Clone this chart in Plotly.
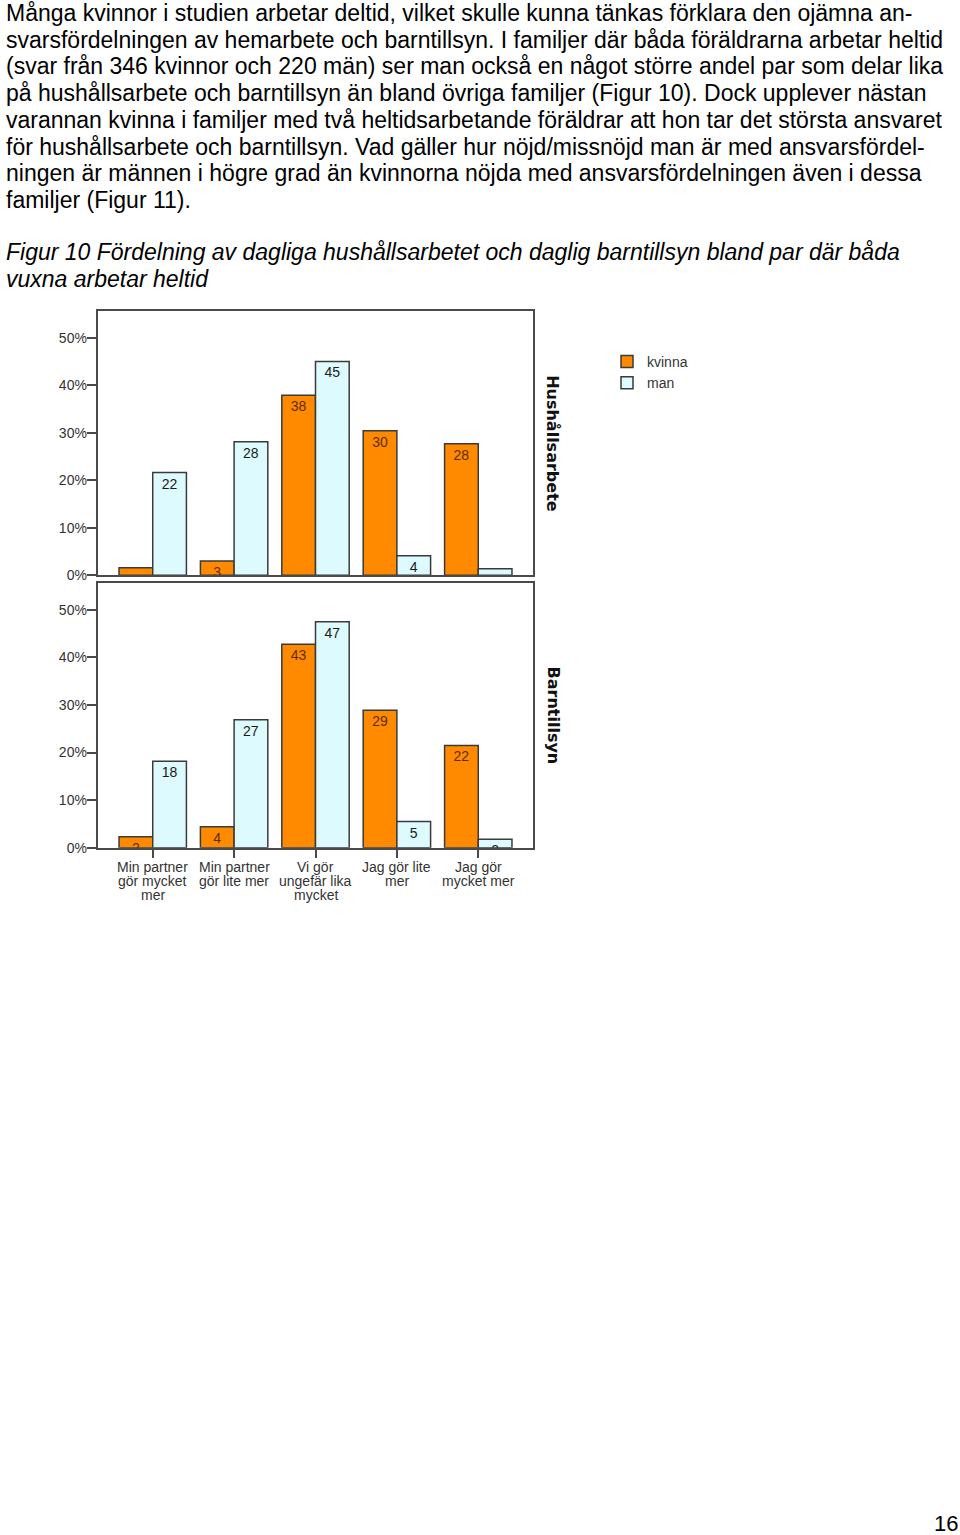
import plotly.graph_objects as go

# ---------------- data ----------------
categories = ["Min partner<br>gör mycket<br>mer", "Min partner<br>gör lite mer",
              "Vi gör<br>ungefär lika<br>mycket", "Jag gör lite<br>mer", "Jag gör<br>mycket mer"]

hush_kvinna = [1.6, 3.0, 37.9, 30.4, 27.7]
hush_man = [21.6, 28.1, 45.0, 4.1, 1.4]
hush_kvinna_labels = ["", "3", "38", "30", "28"]
hush_man_labels = ["22", "28", "45", "4", ""]

barn_kvinna = [2.3, 4.4, 42.8, 28.9, 21.5]
barn_man = [18.2, 26.9, 47.5, 5.5, 1.8]
barn_kvinna_labels = ["2", "4", "43", "29", "22"]
barn_man_labels = ["18", "27", "47", "5", "2"]

ytick_vals = [0, 10, 20, 30, 40, 50]
ytick_text = ["0%", "10%", "20%", "30%", "40%", "50%"]

series_names = ["kvinna", "man"]
panel_names = ["Hushållsarbete", "Barntillsyn"]

paragraph = [
    "Många kvinnor i studien arbetar deltid, vilket skulle kunna tänkas förklara den ojämna an-",
    "svarsfördelningen av hemarbete och barntillsyn. I familjer där båda föräldrarna arbetar heltid",
    "(svar från 346 kvinnor och 220 män) ser man också en något större andel par som delar lika",
    "på hushållsarbete och barntillsyn än bland övriga familjer (Figur 10). Dock upplever nästan",
    "varannan kvinna i familjer med två heltidsarbetande föräldrar att hon tar det största ansvaret",
    "för hushållsarbete och barntillsyn. Vad gäller hur nöjd/missnöjd man är med ansvarsfördel-",
    "ningen är männen i högre grad än kvinnorna nöjda med ansvarsfördelningen även i dessa",
    "familjer (Figur 11).",
]
caption = [
    "Figur 10 Fördelning av dagliga hushållsarbetet och daglig barntillsyn bland par där båda",
    "vuxna arbetar heltid",
]
page_number = "16"

# ---------------- layout helpers ----------------
W, H = 960, 1535
def px_x(v):
    return v / W
def px_y(v):
    return 1 - v / H

ORANGE = "#FF8A00"
CYAN = "#DDFAFF"
OUTLINE = "#3a3a3a"
FRAME = "#4a4a4a"
FONT = "Liberation Sans, Arial, sans-serif"

fig = go.Figure()

panels = [
    (hush_kvinna, hush_man, hush_kvinna_labels, hush_man_labels, "x", "y", True),
    (barn_kvinna, barn_man, barn_kvinna_labels, barn_man_labels, "x2", "y2", False),
]
for kv, mn, kvl, mnl, xa, ya, show in panels:
    fig.add_trace(go.Bar(
        x=categories, y=kv, text=kvl, name=series_names[0], xaxis=xa, yaxis=ya,
        marker=dict(color=ORANGE, line=dict(color=OUTLINE, width=1.5)),
        textposition="inside", insidetextanchor="end", textangle=0,
        insidetextfont=dict(family=FONT, size=14, color="#5e2a00"),
        showlegend=show, legendgroup="k", hoverinfo="skip", cliponaxis=True,
    ))
    fig.add_trace(go.Bar(
        x=categories, y=mn, text=mnl, name=series_names[1], xaxis=xa, yaxis=ya,
        marker=dict(color=CYAN, line=dict(color=OUTLINE, width=1.5)),
        textposition="inside", insidetextanchor="end", textangle=0,
        insidetextfont=dict(family=FONT, size=14, color="#1a1a1a"),
        showlegend=show, legendgroup="m", hoverinfo="skip", cliponaxis=True,
    ))

xdom = [px_x(97.7), px_x(533.3)]
xrange_ = [-0.676, 4.676]
yrange_ = [0, 55.6]

axis_common = dict(showline=True, mirror=True, linecolor=FRAME, linewidth=2,
                   showgrid=False, zeroline=False)
ytick_common = dict(tickvals=ytick_vals, ticktext=ytick_text, ticks="outside", ticklen=9,
                    tickcolor=FRAME, tickwidth=1.5,
                    tickfont=dict(size=14, color="#333333"))

fig.update_layout(
    width=W, height=H,
    margin=dict(l=0, r=0, t=0, b=0, pad=0, autoexpand=False),
    paper_bgcolor="white", plot_bgcolor="white",
    barmode="group", bargap=0.172, bargroupgap=0,
    uniformtext=dict(minsize=14, mode="show"),
    font=dict(family=FONT, color="#333333"),
    xaxis=dict(domain=xdom, range=xrange_, anchor="y", showticklabels=False,
               ticks="", type="category", **axis_common),
    yaxis=dict(domain=[px_y(575.3), px_y(311)], range=yrange_, anchor="x",
               **ytick_common, **axis_common),
    xaxis2=dict(domain=xdom, range=xrange_, anchor="y2", type="category",
                showticklabels=False, ticks="outside", ticklen=8, tickcolor=FRAME,
                tickwidth=1.5, **axis_common),
    yaxis2=dict(domain=[px_y(847.7), px_y(583.3)], range=yrange_, anchor="x2",
                **ytick_common, **axis_common),
    legend=dict(x=px_x(607), y=px_y(346), xanchor="left", yanchor="top",
                font=dict(size=14, color="#333333"), traceorder="normal",
                bgcolor="rgba(0,0,0,0)", tracegroupgap=0),
)

# pull the y tick labels closer to the tick marks, if supported
try:
    fig.update_yaxes(ticklabelstandoff=-3)
except Exception:
    pass

annotations = []
# category labels under the lower panel, one line each (tight line spacing)
label_line_y = [866.7, 880.9, 895.1]
for i, cat in enumerate(categories):
    for j, part in enumerate(cat.split("<br>")):
        annotations.append(dict(
            text=part, xref="x2", yref="paper", x=i, y=px_y(label_line_y[j]),
            xanchor="center", yanchor="middle", showarrow=False,
            font=dict(family=FONT, size=14, color="#333333"),
        ))

# panel strip labels
for name, ya in zip(panel_names, ["y", "y2"]):
    annotations.append(dict(
        text=name, xref="paper", yref=f"{ya} domain", x=px_x(553), y=0.5,
        xanchor="center", yanchor="middle", textangle=90, showarrow=False,
        font=dict(family="DejaVu Sans", size=16, color="#111111", weight="bold"),
    ))

# body text
line_y = [13, 40, 66.5, 93, 120, 146.5, 173, 200]
for txt, yy in zip(paragraph, line_y):
    annotations.append(dict(
        text=txt, xref="paper", yref="paper", x=px_x(4), y=px_y(yy),
        xanchor="left", yanchor="middle", showarrow=False,
        font=dict(family=FONT, size=23, color="#000000"),
    ))
for txt, yy in zip(caption, [252, 279]):
    annotations.append(dict(
        text=f"<i>{txt}</i>", xref="paper", yref="paper", x=px_x(4), y=px_y(yy),
        xanchor="left", yanchor="middle", showarrow=False,
        font=dict(family=FONT, size=23, color="#000000"),
    ))
annotations.append(dict(
    text=page_number, xref="paper", yref="paper", x=px_x(960), y=px_y(1523),
    xanchor="right", yanchor="middle", showarrow=False,
    font=dict(family=FONT, size=22, color="#000000"),
))
fig.update_layout(annotations=annotations)

fig.write_html("out.html")
